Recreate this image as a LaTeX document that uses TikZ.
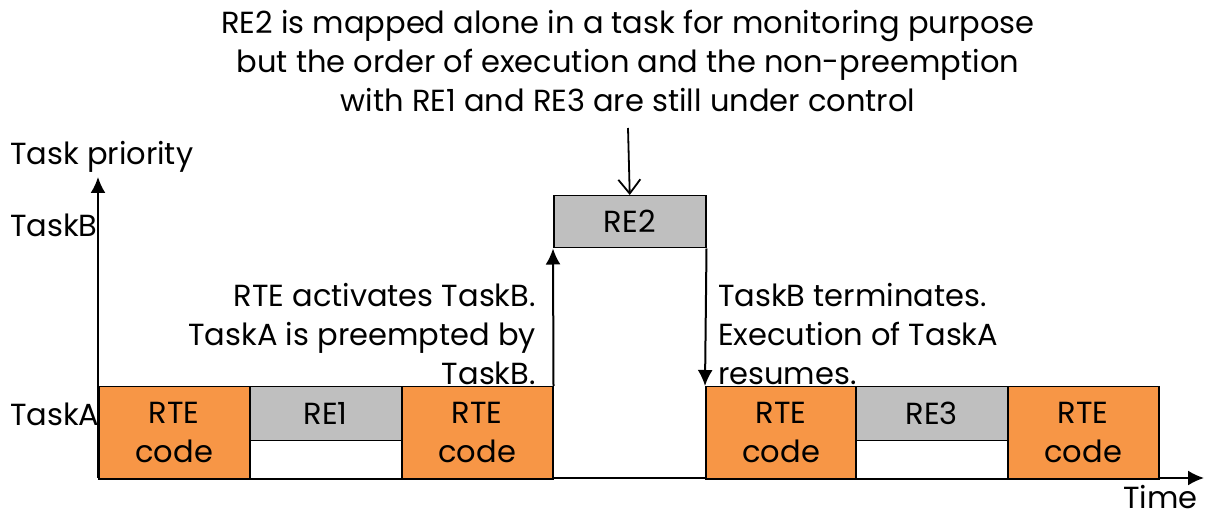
\documentclass[tikz,border=0pt]{standalone}
\usepackage{fontspec}
\setmainfont{Poppins}
\usetikzlibrary{arrows.meta}
\definecolor{rteorange}{HTML}{F79646}
\definecolor{regrey}{HTML}{BFBFBF}
\begin{document}
\begin{tikzpicture}[x=1pt,y=-1pt,
  font=\fontsize{30.5}{39}\selectfont,
  boxbase/.style={draw=black, line width=1.5pt, inner sep=0pt, anchor=north west, align=center},
  rtebox/.style={boxbase, fill=rteorange, minimum width=151pt, minimum height=92pt},
  regreybox/.style={boxbase, fill=regrey, minimum width=152pt, minimum height=54pt},
  whitebox/.style={boxbase, fill=white, minimum width=152pt, minimum height=38pt},
  axisarrow/.style={line width=2pt, -{Latex[length=16pt,width=15pt]}},
  notearrow/.style={line width=1.8pt, -{Straight Barb[length=14pt,width=22pt,line width=1.8pt]}},
  lbl/.style={inner sep=0pt}
]
\useasboundingbox (0,0) rectangle (1205,518);

% axes
\coordinate (origin) at (98,478);
\coordinate (ytip) at (98,177);
\coordinate (xtip) at (1204,478);
\draw[axisarrow] (origin) -- (ytip);
\draw[axisarrow] (origin) -- (xtip);

% TaskA boxes
\node[rtebox] (rte1) at (98,386) {RTE\\code};
\node[regreybox] (re1) at (249,386) {RE1};
\node[whitebox] (w1) at (249,440) {};
\node[rtebox] (rte2) at (401,386) {RTE\\code};
\node[rtebox] (rte3) at (705,386) {RTE\\code};
\node[regreybox] (re3) at (855,386) {RE3};
\node[whitebox] (w3) at (855,440) {};
\node[rtebox] (rte4) at (1007,386) {RTE\\code};

% TaskB box
\node[regreybox, minimum height=52pt] (re2) at (553,195) {RE2};

% transitions
\draw[axisarrow] (rte2.north east) -- (re2.south west);
\draw[axisarrow] (re2.south east) -- (rte3.north west);

% axis labels
\node[lbl, anchor=base west] (prio) at (10,165) {Task priority};
\node[lbl, anchor=base west] (tb) at (10,237) {TaskB};
\node[lbl, anchor=base west] (ta) at (10,426) {TaskA};
\node[lbl, anchor=base east, text height=22pt, text depth=0pt] (time) at (1198,508) {Time};

% annotations
\node[lbl, anchor=east, align=right] (act) at (536,334) {RTE activates TaskB.\\TaskA is preempted by\\TaskB.};
\node[lbl, anchor=west, align=left] (term) at (718,334) {TaskB terminates.\\Execution of TaskA\\resumes.};

% top note
\node[lbl, align=center] (note) at (628,61) {RE2 is mapped alone in a task for monitoring purpose\\but the order of execution and the non-preemption\\with RE1 and RE3 are still under control};
\coordinate (notefoot) at (628,128);
\draw[notearrow] (notefoot) -- (re2.north);
\end{tikzpicture}
\end{document}
